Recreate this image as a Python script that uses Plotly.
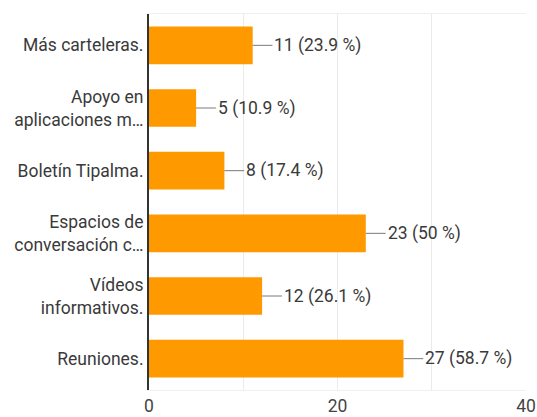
import plotly.graph_objects as go

categories = [
    "Más carteleras.",
    "Apoyo en<br>aplicaciones m…",
    "Boletín Tipalma.",
    "Espacios de<br>conversación c…",
    "Vídeos<br>informativos.",
    "Reuniones.",
]
counts = [11, 5, 8, 23, 12, 27]
percents = ["23.9", "10.9", "17.4", "50", "26.1", "58.7"]
x_ticks = [0, 20, 40]

BAR_COLOR = "#ff9900"
LEADER = 2.1  # length of the leader line before each value label, in data units
FONT = "Roboto"

fig = go.Figure(
    go.Bar(
        y=categories,
        x=counts,
        orientation="h",
        marker=dict(color=BAR_COLOR, line=dict(width=0)),
        hoverinfo="skip",
    )
)

for cat, v, p in zip(categories, counts, percents):
    fig.add_shape(
        type="line", xref="x", yref="y",
        x0=v, x1=v + LEADER, y0=cat, y1=cat,
        line=dict(color="#7a7a7a", width=1),
    )
    fig.add_annotation(
        x=v + LEADER, y=cat, xref="x", yref="y",
        text=f"{v} ({p} %)", showarrow=False,
        xanchor="left", yanchor="middle", xshift=0,
        font=dict(family=FONT, size=17.5, color="#3a3a3a"),
    )

fig.update_layout(
    width=537, height=417,
    margin=dict(l=149, r=11, t=14, b=27, pad=0),
    paper_bgcolor="white", plot_bgcolor="white",
    bargap=0.4,
    showlegend=False,
    font=dict(family=FONT, size=17.5, color="#3a3a3a"),
)
fig.update_xaxes(
    range=[0, 40],
    tickvals=x_ticks,
    ticktext=[str(t) for t in x_ticks],
    tickfont=dict(size=17.5, color="#444444"),
    showgrid=True, gridcolor="#ebebeb", gridwidth=1,
    minor=dict(dtick=10, showgrid=True, gridcolor="#ebebeb"),
    showline=True, linecolor="#f0f0f0", linewidth=1, mirror=True,
    zeroline=False, ticks="", ticklen=0,
    automargin=False,
    fixedrange=True,
)
fig.update_yaxes(
    autorange="reversed",
    showline=True, linecolor="#333333", linewidth=2,
    showgrid=False, ticks="", ticklabelstandoff=0,
    tickfont=dict(size=17.5, color="#3a3a3a"),
    automargin=False,
    fixedrange=True,
)

fig.write_html("out.html")
